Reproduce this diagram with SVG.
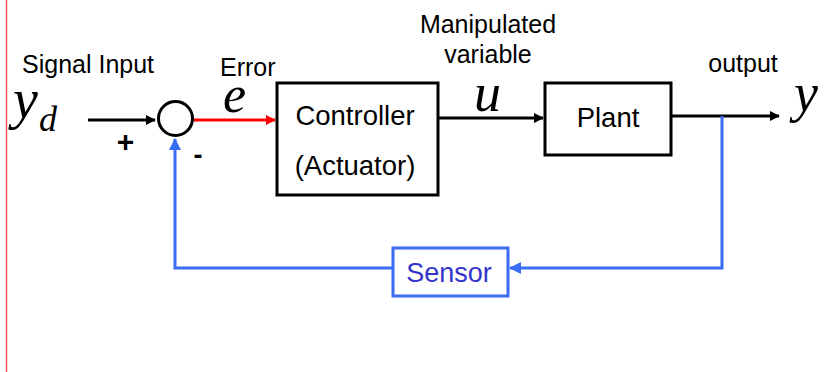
<svg xmlns="http://www.w3.org/2000/svg" width="825" height="372" viewBox="0 0 825 372">
  <defs>
    <marker id="ah-black" markerWidth="10" markerHeight="10" refX="9" refY="5" orient="auto" markerUnits="userSpaceOnUse">
      <path d="M0,0 L10,5 L0,10 z" fill="#000"/>
    </marker>
    <marker id="ah-red" markerWidth="10" markerHeight="10" refX="9" refY="5" orient="auto" markerUnits="userSpaceOnUse">
      <path d="M0,0 L10,5 L0,10 z" fill="#ff0000"/>
    </marker>
    <marker id="ah-blue" markerWidth="12" markerHeight="12" refX="11" refY="6" orient="auto" markerUnits="userSpaceOnUse">
      <path d="M0,0 L12,6 L0,12 z" fill="#3a6cf4"/>
    </marker>
  </defs>
  <style>
    .box { fill: #fff; stroke: #000; stroke-width: 3; }
    .lbl { font-family: "Liberation Sans", Arial, sans-serif; fill: #000; font-size: 25px; }
    .sign { font-family: "Liberation Sans", Arial, sans-serif; fill: #000; font-weight: bold; }
    .blk { font-family: "Liberation Sans", Arial, sans-serif; fill: #000; font-size: 27.5px; }
    .math { font-family: "Liberation Serif", "DejaVu Serif", serif; font-style: italic; fill: #000; }
    .wire { fill: none; stroke: #000; stroke-width: 3; }
    .fb { fill: none; stroke: #3a6cf4; stroke-width: 3; }
  </style>

  <rect width="825" height="372" fill="#fff"/>
  <line x1="6.5" y1="0" x2="6.5" y2="372" stroke="#ff5555" stroke-width="1.5"/>

  <!-- connectors -->
  <g id="connectors">
    <line class="wire" x1="88" y1="120" x2="155" y2="120" marker-end="url(#ah-black)"/>
    <line x1="194" y1="120" x2="275" y2="120" stroke="#ff0000" stroke-width="3" marker-end="url(#ah-red)"/>
    <line class="wire" x1="438" y1="118" x2="543" y2="118" marker-end="url(#ah-black)"/>
    <line class="wire" x1="672" y1="116" x2="779" y2="116" marker-end="url(#ah-black)"/>
    <polyline class="fb" points="722,116 722,268 510,268" marker-end="url(#ah-blue)"/>
    <polyline class="fb" points="393,268 175,268 175,139" marker-end="url(#ah-blue)"/>
  </g>

  <!-- summing junction -->
  <g id="sum">
    <circle cx="175.5" cy="118.5" r="17" fill="#fff" stroke="#000" stroke-width="3"/>
    <text class="sign" x="125.5" y="152" font-size="30" text-anchor="middle">+</text>
    <text class="sign" x="198" y="164" font-size="27" text-anchor="middle">-</text>
  </g>

  <!-- signal labels -->
  <g id="input">
    <text class="lbl" x="22" y="73">Signal Input</text>
    <text class="math" x="13" y="118" font-size="56">y<tspan x="39" dy="13" font-size="36">d</tspan></text>
  </g>
  <g id="error">
    <text class="lbl" x="220" y="76">Error</text>
    <text class="math" x="223" y="112" font-size="52">e</text>
  </g>
  <g id="manipulated">
    <text class="lbl" x="488" y="33" text-anchor="middle">Manipulated</text>
    <text class="lbl" x="488" y="63" text-anchor="middle">variable</text>
    <text class="math" x="474" y="111" font-size="54">u</text>
  </g>
  <g id="output">
    <text class="lbl" x="743" y="72" text-anchor="middle">output</text>
    <text class="math" x="794" y="111" font-size="54">y</text>
  </g>

  <!-- blocks -->
  <g id="controller">
    <rect class="box" x="277" y="83" width="161" height="112"/>
    <text class="blk" x="355" y="125" text-anchor="middle">Controller</text>
    <text class="blk" x="355" y="175" text-anchor="middle">(Actuator)</text>
  </g>
  <g id="plant">
    <rect class="box" x="545" y="83" width="126" height="72"/>
    <text class="blk" x="608" y="127" text-anchor="middle">Plant</text>
  </g>
  <g id="sensor">
    <rect x="393" y="248" width="115" height="48" fill="#fff" stroke="#3a6cf4" stroke-width="3"/>
    <text x="449" y="282" font-size="27px" text-anchor="middle" font-family="'Liberation Sans', Arial, sans-serif" fill="#3535cc">Sensor</text>
  </g>
</svg>
